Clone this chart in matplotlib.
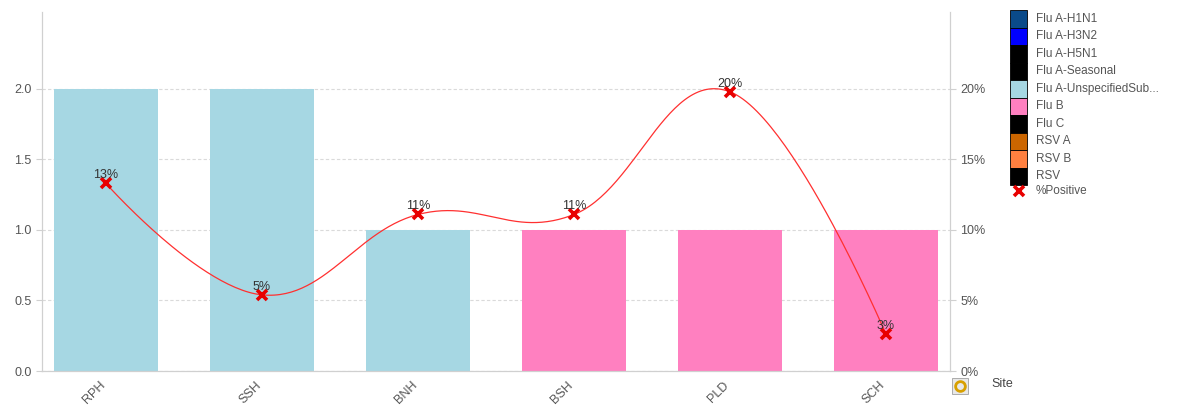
import numpy as np
import matplotlib
matplotlib.use("Agg")
import matplotlib.pyplot as plt
import matplotlib.transforms as mtransforms
from matplotlib.patches import Rectangle
from matplotlib.lines import Line2D

plt.rcParams['font.family'] = ['Liberation Sans', 'DejaVu Sans']

sites = ["RPH", "SSH", "BNH", "BSH", "PLD", "SCH"]
series_names = ["Flu A-H1N1", "Flu A-H3N2", "Flu A-H5N1", "Flu A-Seasonal",
                "Flu A-UnspecifiedSub...", "Flu B", "Flu C", "RSV A", "RSV B", "RSV"]
series_colors = ["#0A4A8A", "#0000FF", "#000000", "#000000", "#A6D7E3",
                 "#FF80C0", "#000000", "#CC6600", "#FF8040", "#000000"]
flu_a_unspecified = [2, 2, 1, 0, 0, 0]
flu_b = [0, 0, 0, 1, 1, 1]
pct_positive = [13.3, 5.4, 11.1, 11.1, 19.8, 2.6]
pct_labels = ["13%", "5%", "11%", "11%", "20%", "3%"]

W, H = 1185, 408
fig = plt.figure(figsize=(W / 100, H / 100), dpi=100)
ax = fig.add_axes([42 / W, 1 - 371 / H, (950 - 42) / W, (371 - 12) / H])
ax2 = ax.twinx()

x = np.arange(len(sites))
gray = "#555555"
ax.bar(x, flu_a_unspecified, width=0.667, color="#A6D7E3", zorder=2)
ax.bar(x, flu_b, width=0.667, bottom=flu_a_unspecified, color="#FF80C0", zorder=2)

ax.set_xlim(-0.41, len(sites) - 1 + 0.41)
ax.set_ylim(0, 2.546)
ax.set_yticks([0, 0.5, 1.0, 1.5, 2.0])
ax.set_yticklabels(["0.0", "0.5", "1.0", "1.5", "2.0"])
ax.set_xticks(x)
ax.set_xticklabels([])
# rotated category labels, shifted slightly left/down like the reference
lab_tr = ax.get_xaxis_transform() + mtransforms.ScaledTranslation(-7 / 100, -8 / 100, fig.dpi_scale_trans)
for xi, s in zip(x, sites):
    ax.text(xi, 0, s, transform=lab_tr, rotation=45, ha="right", va="top",
            rotation_mode="anchor", fontsize=9, color=gray)
ax.yaxis.grid(True, linestyle=(0, (3, 2)), color="#DADADA", linewidth=0.8, zorder=0)
ax.set_axisbelow(True)

ax2.set_ylim(0, 25.46)
ax2.set_yticks([0, 5, 10, 15, 20])
ax2.set_yticklabels(["0%", "5%", "10%", "15%", "20%"])

for a in (ax, ax2):
    a.spines["top"].set_visible(False)
    for s in ("left", "right", "bottom"):
        a.spines[s].set_color("#D0D0D0")
    a.tick_params(colors="#D0D0D0", labelcolor=gray, labelsize=9, length=4)
ax.tick_params(axis="x", length=0)


# smooth cardinal spline through the points (rendering of the line)
def spline_path(xs, ys, smoothing=1.5):
    n = len(xs)
    lc = [None] * n
    rc = [None] * n
    for i in range(1, n - 1):
        px, py = xs[i], ys[i]
        lx, ly = xs[i - 1], ys[i - 1]
        nx, ny = xs[i + 1], ys[i + 1]
        d = smoothing + 1
        lcx = (smoothing * px + lx) / d
        lcy = (smoothing * py + ly) / d
        rcx = (smoothing * px + nx) / d
        rcy = (smoothing * py + ny) / d
        corr = (rcy - lcy) * (rcx - px) / (rcx - lcx) + py - rcy
        lc[i] = (lcx, lcy + corr)
        rc[i] = (rcx, rcy + corr)
    outx, outy = [], []
    t = np.linspace(0, 1, 60)
    for i in range(1, n):
        p0 = (xs[i - 1], ys[i - 1])
        p1 = rc[i - 1] if rc[i - 1] else p0
        p3 = (xs[i], ys[i])
        p2 = lc[i] if lc[i] else p3
        bx = (1 - t) ** 3 * p0[0] + 3 * (1 - t) ** 2 * t * p1[0] + 3 * (1 - t) * t ** 2 * p2[0] + t ** 3 * p3[0]
        by = (1 - t) ** 3 * p0[1] + 3 * (1 - t) ** 2 * t * p1[1] + 3 * (1 - t) * t ** 2 * p2[1] + t ** 3 * p3[1]
        outx.extend(bx); outy.extend(by)
    return outx, outy

sx, sy = spline_path(list(x.astype(float)), pct_positive)
ax2.plot(sx, sy, color="#FF3030", linewidth=0.9, zorder=3)
ax2.plot(x, pct_positive, linestyle="none", marker="x", markersize=7, markeredgewidth=2.6,
         color="#E80000", zorder=4)
for xi, yi, lab in zip(x, pct_positive, pct_labels):
    ax2.annotate(lab, (xi, yi), xytext=(0, 1.5), textcoords="offset points",
                 ha="center", va="bottom", fontsize=9, color="#333333", zorder=5)

# legend
row_h = 17.5
top = 10
for i, (name, col) in enumerate(zip(series_names, series_colors)):
    y0 = top + i * row_h
    fig.add_artist(Rectangle((1010 / W, 1 - (y0 + row_h) / H), 17 / W, row_h / H,
                             transform=fig.transFigure, facecolor=col,
                             edgecolor="#000000", linewidth=0.6))
    fig.text(1036 / W, 1 - (y0 + row_h / 2) / H, name, fontsize=8.5, color=gray,
             va="center", ha="left")
yl = top + 10 * row_h + 6
fig.add_artist(Line2D([1018.5 / W], [1 - yl / H], marker="x", markersize=7, markeredgewidth=2.6,
                      color="#E80000", linestyle="none", transform=fig.transFigure))
fig.text(1036 / W, 1 - yl / H, "%Positive", fontsize=8.5, color=gray, va="center", ha="left")

# cycle-group icon and "Site" label
fig.add_artist(Rectangle((952 / W, 1 - 394 / H), 16 / W, 16 / H, transform=fig.transFigure,
                         facecolor="#E8E8E8", edgecolor="#A0A0A0", linewidth=0.6))
fig.add_artist(Line2D([960 / W], [1 - 386 / H], marker="o", markersize=7, markerfacecolor="none",
                      markeredgecolor="#D8A000", markeredgewidth=2, linestyle="none",
                      transform=fig.transFigure))
fig.text(991 / W, 1 - 384 / H, "Site", fontsize=9, color="#444444", va="center", ha="left")

fig.savefig("out.png", dpi=100)
